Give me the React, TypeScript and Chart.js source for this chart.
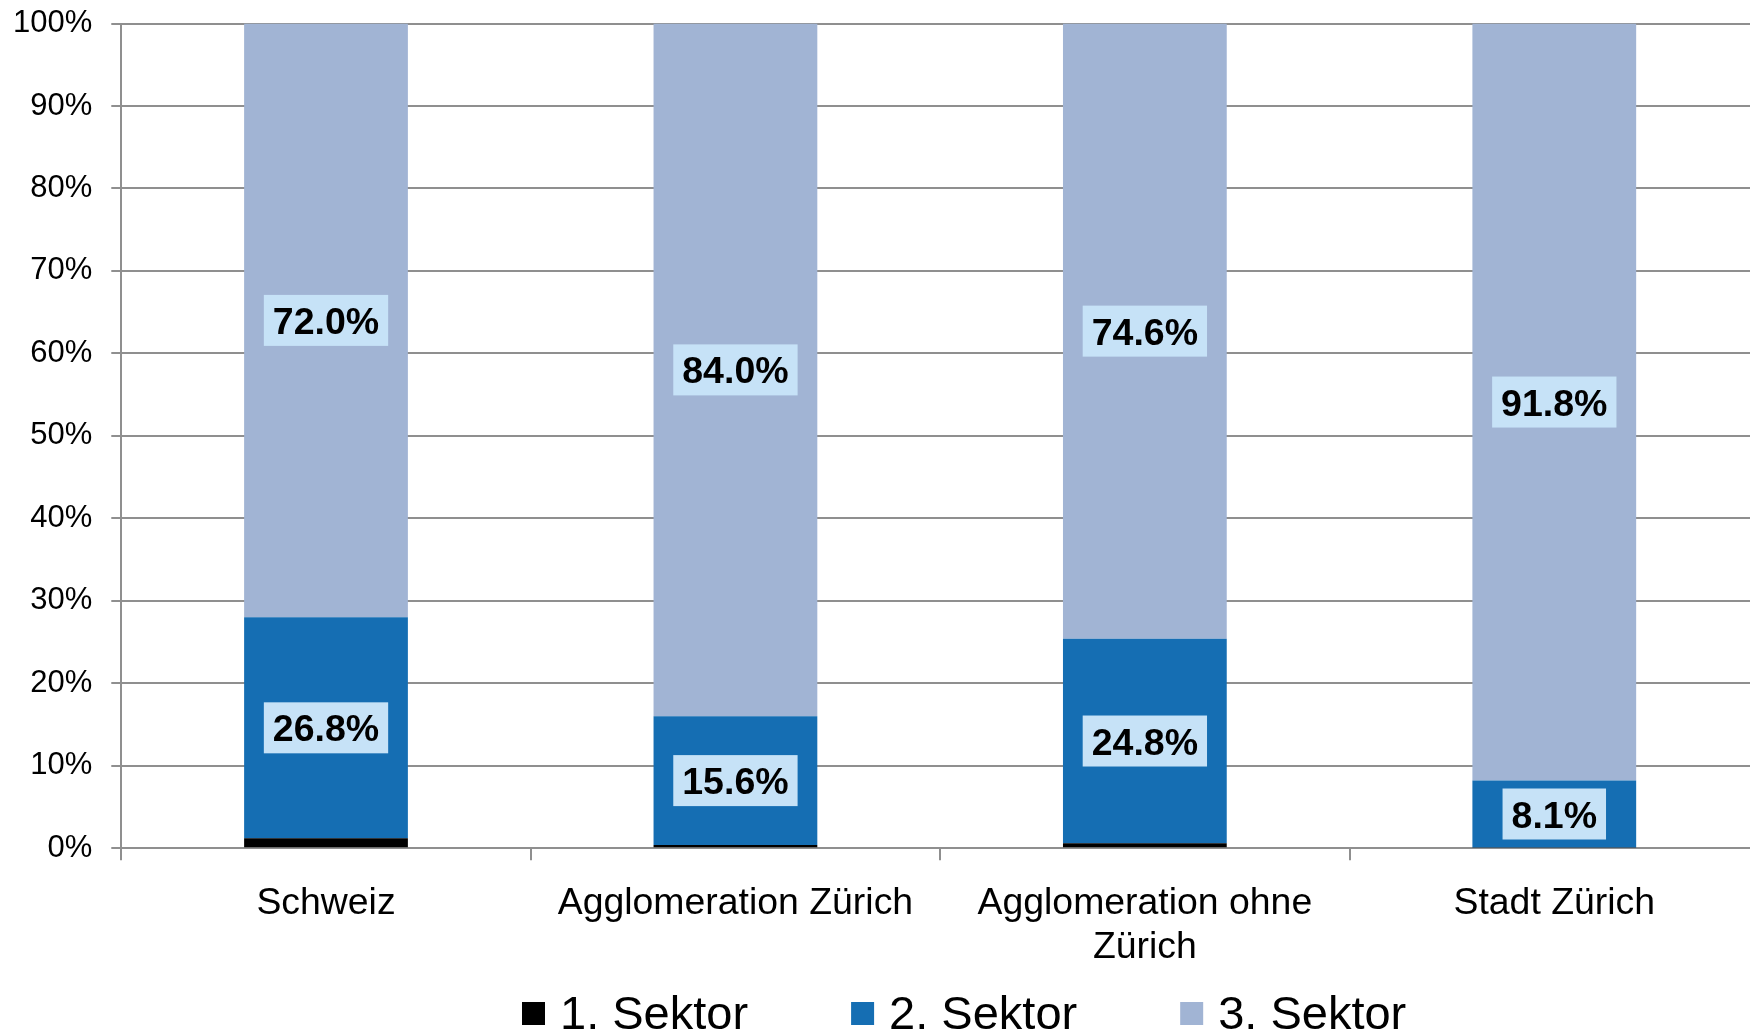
import { useEffect, useRef } from 'react';
import { Chart, registerables } from 'chart.js';

Chart.register(...registerables);

const categories: (string | string[])[] = [
  'Schweiz',
  'Agglomeration Zürich',
  ['Agglomeration ohne', 'Zürich'],
  'Stadt Zürich',
];
const seriesNames = ['1. Sektor', '2. Sektor', '3. Sektor'];
const sektor1 = [1.2, 0.4, 0.6, 0.1];
const sektor2 = [26.8, 15.6, 24.8, 8.1];
const sektor3 = [72.0, 84.0, 74.6, 91.8];
const seriesColors = ['#000000', '#156eb3', '#a1b4d4'];
const labeledSeries = [1, 2];

const FONT = '"Liberation Sans", Arial, Helvetica, sans-serif';
const GRID = '#8f8f8f';

const valueLabels = {
  id: 'valueLabels',
  afterDatasetsDraw(chart: any) {
    const ctx = chart.ctx;
    ctx.save();
    ctx.font = `bold 37.5px ${FONT}`;
    chart.data.datasets.forEach((ds: any, di: number) => {
      if (!labeledSeries.includes(di)) return;
      const meta = chart.getDatasetMeta(di);
      meta.data.forEach((el: any, i: number) => {
        const v = ds.data[i] as number;
        const { x, y, base } = el.getProps(['x', 'y', 'base'], true);
        const cy = (y + base) / 2;
        const text = v.toFixed(1) + '%';
        const w = ctx.measureText(text).width;
        ctx.fillStyle = '#c6e2f7';
        ctx.fillRect(x - w / 2 - 9, cy - 25.5, w + 18, 51);
        ctx.fillStyle = '#000';
        ctx.textAlign = 'center';
        ctx.textBaseline = 'alphabetic';
        ctx.fillText(text, x, cy + 13.5);
      });
    });
    ctx.restore();
  },
};

const customLegend = {
  id: 'customLegend',
  afterDraw(chart: any) {
    const ctx = chart.ctx;
    ctx.save();
    ctx.font = `47px ${FONT}`;
    ctx.textAlign = 'left';
    ctx.textBaseline = 'alphabetic';
    let x = 522;
    const baseline = 1029;
    const box = 23;
    chart.data.datasets.forEach((ds: any) => {
      ctx.fillStyle = ds.backgroundColor;
      ctx.fillRect(x, baseline - 27, box, box);
      ctx.fillStyle = '#000';
      ctx.fillText(ds.label, x + box + 15, baseline);
      const w = ctx.measureText(ds.label).width;
      x += box + 15 + w + 103;
    });
    ctx.restore();
  },
};

export default function App() {
  const ref = useRef<HTMLCanvasElement>(null);

  useEffect(() => {
    document.body.style.margin = '0';
    document.body.style.overflow = 'hidden';
    if (!ref.current) return;
    const seriesData = [sektor1, sektor2, sektor3];
    const chart = new Chart(ref.current, {
      type: 'bar',
      data: {
        labels: categories as any,
        datasets: seriesNames.map((name, i) => ({
          label: name,
          data: seriesData[i],
          backgroundColor: seriesColors[i],
          borderWidth: 0,
          categoryPercentage: 1,
          barPercentage: 0.4,
        })),
      },
      options: {
        responsive: false,
        animation: false,
        layout: { padding: { left: -6, top: 23.5, right: 0, bottom: 43 } },
        plugins: {
          legend: { display: false },
          tooltip: { enabled: false },
        },
        scales: {
          x: {
            stacked: true,
            offset: true,
            grid: {
              display: true,
              drawOnChartArea: false,
              drawTicks: true,
              tickLength: 12,
              color: GRID,
              lineWidth: 2,
              offset: true,
            },
            border: { display: true, color: GRID, width: 2 },
            ticks: {
              color: '#000',
              font: { family: FONT, size: 37.4, lineHeight: 1.16 },
              padding: 22,
              maxRotation: 0,
              autoSkip: false,
            },
          },
          y: {
            stacked: true,
            min: 0,
            max: 100,
            afterFit: (scale: any) => {
              scale.paddingTop = 0;
              scale.paddingBottom = 0;
            },
            ticks: {
              stepSize: 10,
              callback: (v: any) => v + '%',
              color: '#000',
              font: { family: FONT, size: 31 },
              padding: 19,
            },
            grid: { color: GRID, lineWidth: 2, tickLength: 10, drawTicks: true },
            border: { display: true, color: GRID, width: 2 },
          },
        },
      },
      plugins: [valueLabels, customLegend],
    });
    return () => chart.destroy();
  }, []);

  return (
    <div style={{ width: 1750, height: 1034, overflow: 'hidden' }}>
      <canvas
        ref={ref}
        width={1759}
        height={1034}
        style={{ display: 'block', width: 1759, height: 1034 }}
      />
    </div>
  );
}
